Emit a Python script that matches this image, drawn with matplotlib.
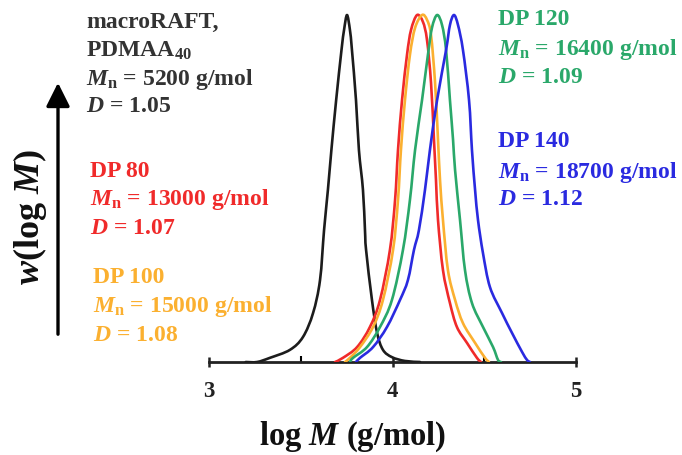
import matplotlib
matplotlib.use("Agg")
import matplotlib.pyplot as plt
from matplotlib.ticker import MultipleLocator
from matplotlib.path import Path
from matplotlib.patches import PathPatch, FancyArrowPatch

plt.rcParams['font.family'] = ['Liberation Serif', 'DejaVu Serif']
plt.rcParams['font.weight'] = 'bold'
plt.rcParams['mathtext.fontset'] = 'custom'
plt.rcParams['mathtext.rm'] = 'Liberation Serif:bold'
plt.rcParams['mathtext.it'] = 'Liberation Serif:italic:bold'
plt.rcParams['mathtext.bf'] = 'Liberation Serif:bold'

# ---- data (log M, normalised w(log M)) ----
black_x = [3.20, 3.262, 3.332, 3.441, 3.512, 3.567, 3.605, 3.627, 3.648, 3.667, 3.693, 3.722, 3.736,
           3.752, 3.768, 3.779, 3.801, 3.817, 3.839, 3.850, 3.856, 3.888, 3.916, 3.948, 3.997, 4.068, 4.150]
black_y = [0, 0, 0.012, 0.035, 0.072, 0.141, 0.236, 0.380, 0.496, 0.611, 0.755, 0.899, 0.957,
           1.0, 0.957, 0.899, 0.755, 0.611, 0.496, 0.380, 0.323, 0.179, 0.084, 0.035, 0.014, 0.003, 0]

red_x = [3.687, 3.730, 3.807, 3.877, 3.932, 3.986, 4.014, 4.030, 4.052, 4.079, 4.101, 4.134,
         4.166, 4.188, 4.210, 4.226, 4.237, 4.248, 4.275, 4.313, 4.351, 4.406, 4.460, 4.482]
red_y = [0, 0.012, 0.043, 0.101, 0.179, 0.323, 0.467, 0.611, 0.755, 0.885, 0.957, 1.0,
         0.980, 0.928, 0.804, 0.640, 0.524, 0.409, 0.265, 0.170, 0.101, 0.055, 0.012, 0]

orange_x = [3.741, 3.768, 3.823, 3.894, 3.948, 4.003, 4.030, 4.046, 4.068, 4.095, 4.123, 4.161,
            4.188, 4.210, 4.232, 4.248, 4.259, 4.275, 4.302, 4.341, 4.384, 4.450, 4.504, 4.526]
orange_y = [0, 0.012, 0.043, 0.101, 0.179, 0.323, 0.467, 0.611, 0.755, 0.885, 0.963, 1.0,
            0.986, 0.942, 0.804, 0.640, 0.524, 0.409, 0.265, 0.179, 0.112, 0.055, 0.012, 0]

green_x = [3.768, 3.785, 3.861, 3.932, 3.997, 4.057, 4.095, 4.123, 4.161, 4.193, 4.215, 4.243,
           4.270, 4.292, 4.313, 4.330, 4.341, 4.368, 4.395, 4.433, 4.493, 4.548, 4.575, 4.591]
green_y = [0, 0.012, 0.043, 0.101, 0.179, 0.323, 0.467, 0.611, 0.755, 0.885, 0.963, 1.0,
           0.971, 0.899, 0.755, 0.640, 0.553, 0.409, 0.265, 0.170, 0.101, 0.043, 0.006, 0]

blue_x = [3.801, 3.823, 3.894, 3.970, 4.041, 4.084, 4.117, 4.144, 4.177, 4.204, 4.243, 4.292, 4.313,
          4.335, 4.357, 4.384, 4.417, 4.433, 4.450, 4.466, 4.493, 4.531, 4.597, 4.651, 4.706, 4.733, 4.749]
blue_y = [0, 0.012, 0.043, 0.101, 0.179, 0.236, 0.323, 0.380, 0.496, 0.611, 0.755, 0.899, 0.971,
          1.0, 0.971, 0.899, 0.755, 0.611, 0.496, 0.409, 0.314, 0.216, 0.141, 0.084, 0.029, 0.006, 0]

xticks = [3, 4, 5]
xtick_labels = ['3', '4', '5']

c_black = '#1c1c1c'
c_red = '#f02a2a'
c_orange = '#fbb030'
c_green = '#2aa86a'
c_blue = '#2a2ae0'


def smooth_path(xs, ys):
    """Catmull-Rom style Bezier path through the read points (rendering only)."""
    pts = list(zip(xs, ys))
    n = len(pts)
    verts = [pts[0]]
    codes = [Path.MOVETO]
    for i in range(n - 1):
        p0 = pts[i - 1] if i > 0 else pts[i]
        p1 = pts[i]
        p2 = pts[i + 1]
        p3 = pts[i + 2] if i + 2 < n else pts[i + 1]
        c1 = (p1[0] + (p2[0] - p0[0]) / 6, p1[1] + (p2[1] - p0[1]) / 6)
        c2 = (p2[0] - (p3[0] - p1[0]) / 6, p2[1] - (p3[1] - p1[1]) / 6)
        verts += [c1, c2, p2]
        codes += [Path.CURVE4] * 3
    return Path(verts, codes)


W, H = 682, 455
fig = plt.figure(figsize=(W / 100, H / 100), dpi=100)
YTOP = 1.05
top_px = 362 - 347 * YTOP
ax = fig.add_axes([209 / W, (H - 362) / H, (576 - 209) / W, (362 - top_px) / H])
ax.set_xlim(3, 5)
ax.set_ylim(0, YTOP)
ax.patch.set_alpha(0)

for xs, ys, c in [(black_x, black_y, c_black), (red_x, red_y, c_red), (orange_x, orange_y, c_orange),
                  (green_x, green_y, c_green), (blue_x, blue_y, c_blue)]:
    ax.add_patch(PathPatch(smooth_path(xs, ys), facecolor='none', edgecolor=c, lw=1.9,
                           joinstyle='round', capstyle='round', zorder=3))

for s in ['top', 'right', 'left']:
    ax.spines[s].set_visible(False)
ax.spines['bottom'].set_linewidth(2.0)
ax.spines['bottom'].set_color('#222222')
ax.spines['bottom'].set_zorder(2)
ax.set_yticks([])
ax.set_xticks(xticks)
ax.set_xticklabels(xtick_labels, fontsize=16.5, fontweight='bold', color='#222222')
ax.xaxis.set_minor_locator(MultipleLocator(0.5))
ax.tick_params(axis='x', which='major', direction='inout', length=7, width=1.8, pad=10, colors='#222222')
ax.tick_params(axis='x', which='minor', direction='in', length=4, width=1.5)


def px_text(x, y, s, color, size=17):
    fig.text(x / W, (H - y) / H, s, color=color, fontsize=size, fontweight='bold',
             ha='left', va='baseline')


tc_black = '#333333'
px_text(86, 28, 'macroRAFT,', tc_black)
px_text(86, 57, r'PDMAA$_{40}$', tc_black)
px_text(86, 85, r'$M_\mathrm{n}$ = 5200 g/mol', tc_black)
px_text(86, 112, r'$D$ = 1.05', tc_black)

px_text(90, 177, 'DP 80', c_red)
px_text(90, 205, r'$M_\mathrm{n}$ = 13000 g/mol', c_red)
px_text(90, 234, r'$D$ = 1.07', c_red)

px_text(93, 283, 'DP 100', c_orange)
px_text(93, 312, r'$M_\mathrm{n}$ = 15000 g/mol', c_orange)
px_text(93, 341, r'$D$ = 1.08', c_orange)

px_text(498, 25, 'DP 120', c_green)
px_text(498, 55, r'$M_\mathrm{n}$ = 16400 g/mol', c_green)
px_text(498, 83, r'$D$ = 1.09', c_green)

px_text(498, 147, 'DP 140', c_blue)
px_text(498, 178, r'$M_\mathrm{n}$ = 18700 g/mol', c_blue)
px_text(498, 205, r'$D$ = 1.12', c_blue)

# x label
fig.text(353 / W, (H - 437) / H, r'log $M$ (g/mol)', fontsize=23.5, fontweight='bold',
         ha='center', va='center', color='#111111')
# y label and arrow
fig.text(30 / W, (H - 217) / H, r'$w$(log $M$)', fontsize=26, fontweight='bold',
         rotation=90, ha='center', va='center', color='#111111')
fig.patches.append(FancyArrowPatch(
    (58 / W, (H - 337) / H), (58 / W, (H - 80) / H), transform=fig.transFigure,
    arrowstyle='-|>,head_length=9,head_width=4.5', mutation_scale=1.6, lw=2.4, color='black'))

fig.savefig('out.png', dpi=100)
